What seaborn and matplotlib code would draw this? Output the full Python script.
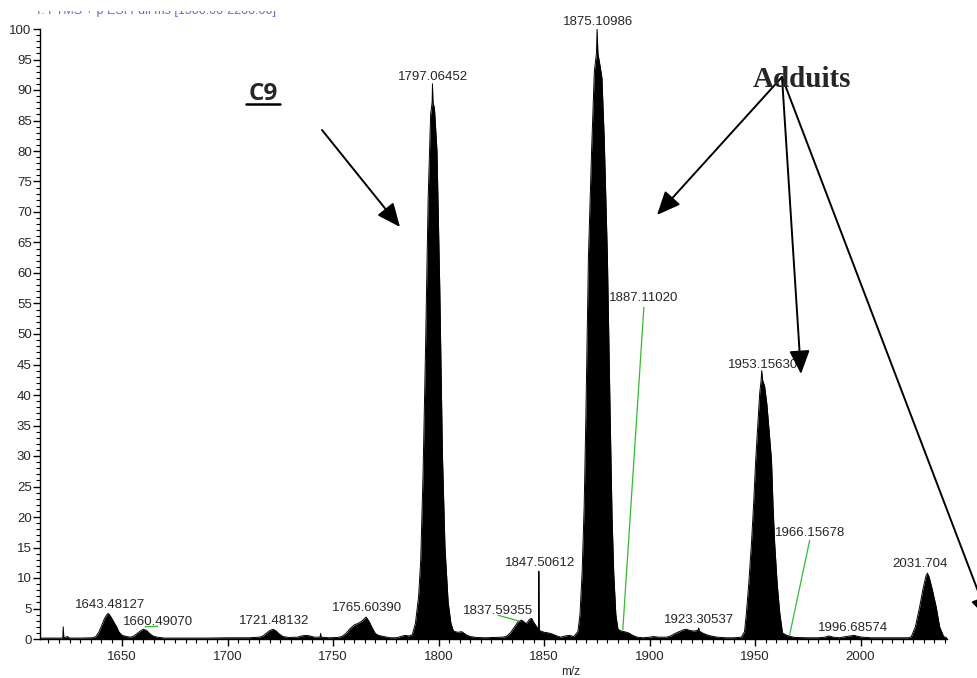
import matplotlib.pyplot as plt
import seaborn as sns
from matplotlib.ticker import MultipleLocator
from matplotlib.patches import Rectangle

# spectrum profile (m/z, relative abundance)
profile_mz = [
    1611, 1615, 1621.8, 1622.0, 1622.3, 1624, 1625, 1630, 1636,
    1637.5, 1639, 1640, 1641.5, 1642.5, 1643.4, 1644.5, 1646, 1647.3, 1648.5, 1650, 1652, 1654,
    1655.5, 1657, 1658.5, 1660, 1661.5, 1663, 1664.5, 1666.5, 1670,
    1680, 1690, 1700, 1710, 1715,
    1716.7, 1718.5, 1720, 1721.5, 1723, 1724.5, 1726.2, 1729,
    1733, 1735, 1737, 1739, 1741, 1743.8, 1744, 1744.3, 1748, 1752,
    1754, 1756, 1758, 1760, 1762, 1763.5, 1765.6, 1767, 1768.5, 1770, 1771.5, 1774, 1777, 1780,
    1782, 1784, 1786,
    1787.5, 1789, 1790.5, 1791.5, 1792.6, 1793.8, 1795, 1796.2, 1796.9, 1797.06, 1797.3, 1798,
    1799.2, 1800.5, 1801.8, 1803, 1804.5, 1805.8, 1807, 1809, 1811, 1813, 1815, 1818, 1822, 1826, 1830,
    1832, 1834, 1836, 1837.6, 1839.3, 1840.5, 1841.6, 1843, 1844, 1845.3, 1847.3, 1847.51, 1847.7,
    1850, 1852, 1854, 1856, 1858, 1860, 1862, 1864,
    1866, 1867, 1868, 1869, 1869.8, 1871, 1872.5, 1873.8, 1874.8, 1875.11, 1875.5, 1876.5, 1877.4,
    1878.5, 1880, 1881.3, 1882.2, 1883, 1884, 1885, 1886.5, 1888, 1890, 1892, 1894, 1897, 1900,
    1902, 1904, 1906,
    1908, 1910, 1912, 1914, 1916, 1917.5, 1919, 1921, 1922.8, 1923.3, 1923.6, 1925, 1927, 1929,
    1932, 1936, 1940,
    1943.5, 1945, 1945.9, 1947, 1948.3, 1949.3, 1950.3, 1951.3, 1952.2, 1952.9, 1953.16, 1953.5,
    1954.5, 1955.6, 1956.7, 1957.8, 1958.5, 1959.3, 1960.5, 1961.7, 1963, 1965, 1967, 1969, 1975, 1980,
    1983, 1985, 1987, 1990, 1993, 1995, 1997, 1999, 2001, 2005, 2010, 2015, 2020,
    2023, 2024.1, 2026, 2028, 2029.5, 2031, 2031.7, 2032.5, 2034.1, 2035.9, 2037.5, 2039.4, 2041,
]
profile_int = [
    0.15, 0.15, 0.15, 2.0, 0.2, 0.4, 0.15, 0.15, 0.2,
    0.4, 1.2, 2.0, 3.3, 3.9, 4.2, 3.7, 2.8, 2.0, 1.1, 0.6, 0.4, 0.3,
    0.5, 0.9, 1.3, 1.6, 1.4, 0.9, 0.5, 0.3, 0.15,
    0.15, 0.15, 0.2, 0.2, 0.3,
    0.5, 1.0, 1.4, 1.6, 1.3, 0.8, 0.4, 0.25,
    0.3, 0.5, 0.6, 0.5, 0.3, 0.3, 0.9, 0.3, 0.2, 0.25,
    0.4, 0.9, 1.7, 2.3, 2.6, 2.9, 3.6, 2.9, 1.8, 0.9, 0.6, 0.4, 0.2, 0.2,
    0.4, 0.6, 0.5,
    0.7, 2.6, 7, 13, 27, 48, 72, 86, 88, 91, 88, 87,
    80, 58, 30, 15, 6, 2.6, 1.3, 1.1, 1.2, 0.7, 0.4, 0.25, 0.2, 0.25, 0.3,
    0.4, 1.0, 2.0, 2.8, 3.1, 2.8, 2.5, 3.2, 3.4, 2.6, 1.6, 11.1, 1.4,
    1.1, 1.0, 0.8, 0.5, 0.3, 0.5, 0.6, 0.4,
    1.2, 4, 10.8, 22, 36.7, 62.6, 80, 93, 96, 100, 96, 94, 92,
    82, 62.6, 36.7, 20, 10.8, 4, 1.6, 1.3, 1.2, 1.0, 0.6, 0.3, 0.2, 0.3,
    0.4, 0.3, 0.3,
    0.3, 0.5, 0.9, 1.2, 1.5, 1.6, 1.4, 1.3, 1.4, 1.8, 1.3, 1.0, 0.7, 0.5,
    0.3, 0.2, 0.2,
    0.3, 1.2, 4.3, 9, 15.7, 22, 29.3, 35, 40.3, 42.5, 44, 42.5,
    41.5, 38.5, 34, 29.3, 22, 15.7, 9, 4.3, 1.0, 0.6, 0.4, 0.25, 0.2, 0.2,
    0.3, 0.5, 0.3, 0.2, 0.4, 0.5, 0.6, 0.4, 0.3, 0.2, 0.2, 0.2, 0.2,
    0.2, 0.4, 2, 5.2, 8, 10.3, 10.8, 10.2, 8, 5.2, 2, 0.4, 0.2,
]

peak_labels = ["1643.48127", "1660.49070", "1721.48132", "1765.60390", "1797.06452",
               "1837.59355", "1847.50612", "1875.10986", "1887.11020", "1923.30537",
               "1953.15630", "1966.15678", "1996.68574", "2031.704"]
label_pos = [(1644.2, 5.6), (1666.9, 2.8), (1721.9, 3.0), (1766.0, 5.1), (1797.3, 92.1),
             (1828.3, 4.6), (1848.0, 12.5), (1875.5, 101.1), (1897.3, 55.9), (1923.3, 3.1),
             (1953.7, 44.9), (1975.9, 17.4), (1996.3, 1.8), (2028.1, 12.3)]

# green connector lines (label -> peak)
green_links = [((1660.8, 2.0), (1666.9, 2.1)),
               ((1828.1, 3.9), (1838.0, 2.95)),
               ((1897.3, 54.4), (1887.3, 1.5)),
               ((1975.9, 16.2), (1966.4, 0.66))]

sns.set_style("ticks")
plt.rcParams["font.family"] = ["Liberation Sans", "DejaVu Sans"]

fig = plt.figure(figsize=(9.78, 6.78), dpi=100)
ax = fig.add_axes([40 / 978, 1 - 639 / 678, 907 / 978, 610 / 678])

ax.fill_between(profile_mz, 0, profile_int, color="black", lw=0)
sns.lineplot(x=profile_mz, y=profile_int, color="black", linewidth=0.7,
             estimator=None, sort=False, ax=ax)

for (x0, y0), (x1, y1) in green_links:
    ax.plot([x0, x1], [y0, y1], color="#33bb33", lw=0.9, clip_on=False)

for txt, (x, y) in zip(peak_labels, label_pos):
    ax.text(x, y, txt, ha="center", va="center", fontsize=9.5, clip_on=False)

ax.set_xlim(1611, 2041)
ax.set_ylim(0, 100)
ax.set_xticks(range(1650, 2001, 50))
ax.xaxis.set_minor_locator(MultipleLocator(5))
ax.set_yticks(range(0, 101, 5))
ax.yaxis.set_minor_locator(MultipleLocator(1))
ax.tick_params(axis="both", which="major", direction="out", length=5, width=1,
               labelsize=9.5, color="black")
ax.tick_params(axis="both", which="minor", direction="out", length=3, width=0.8, color="black")
ax.tick_params(axis="y", which="major", pad=1)
ax.tick_params(axis="x", which="major", pad=3.5)
ax.set_xlabel("")
ax.set_ylabel("")
sns.despine(ax=ax)
for s in ["left", "bottom"]:
    ax.spines[s].set_color("black")
    ax.spines[s].set_linewidth(1)

fig.text(571 / 978, 1 - 672 / 678, "m/z", ha="center", va="center", fontsize=8.5)

# scan header, cut off by the top edge of the picture (only its lower rim shows)
fig.text(35 / 978, 1 - 14 / 678, "T: FTMS + p ESI Full ms [1500.00-2200.00]",
         color="#6666dd", fontsize=9, va="baseline", zorder=3)
fig.add_artist(Rectangle((0, 1 - 11 / 678), 0.5, 11 / 678, transform=fig.transFigure,
                         facecolor="white", edgecolor="none", zorder=10))

# hand-drawn annotations
fig.text(263 / 978, 1 - 100 / 678, "C9", ha="center", va="baseline", fontsize=17.5,
         fontweight="bold", family="Open Sans")
ax.plot([246 / 978, 280 / 978], [1 - 104 / 678, 1 - 104 / 678], transform=fig.transFigure,
        color="black", lw=1.8, clip_on=False)
fig.text(802 / 978, 1 - 87 / 678, "Adduits", ha="center", va="baseline", fontsize=21,
         fontweight="bold", family="Liberation Serif")

arrow_kw = dict(arrowstyle="-|>,head_length=0.8,head_width=0.35", color="black",
                lw=1.4, mutation_scale=18, shrinkA=0, shrinkB=0)
arrows = [((322, 130), (400, 227)),
          ((782, 77), (657, 215)),
          ((782, 77), (801, 374)),
          ((782, 77), (989, 620))]
for (x0, y0), (x1, y1) in arrows:
    ax.annotate("", xy=(x1, 678 - y1), xytext=(x0, 678 - y0), xycoords="figure pixels",
                textcoords="figure pixels", arrowprops=arrow_kw, annotation_clip=False)

fig.savefig("out.png", dpi=100)
